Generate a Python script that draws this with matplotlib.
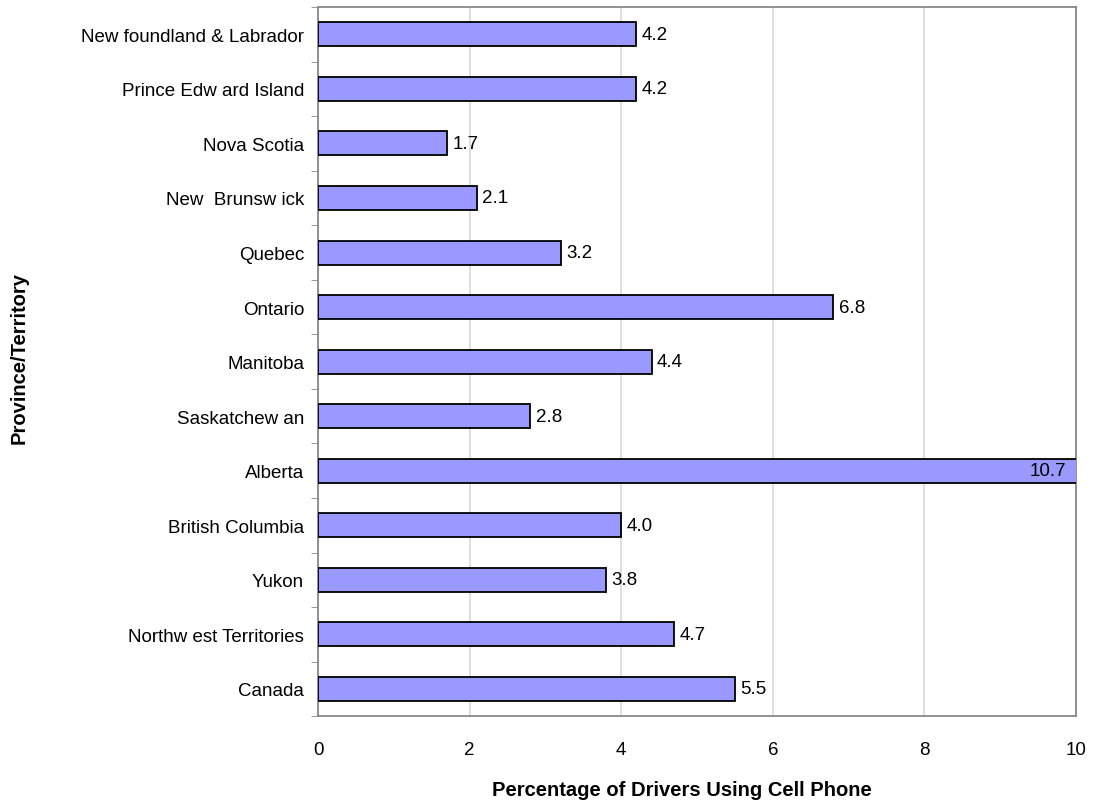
import matplotlib
matplotlib.use("Agg")
import matplotlib.pyplot as plt

# donnees (du haut vers le bas)
provinces = ["New foundland & Labrador", "Prince Edw ard Island", "Nova Scotia",
             "New  Brunsw ick", "Quebec", "Ontario", "Manitoba", "Saskatchew an",
             "Alberta", "British Columbia", "Yukon", "Northw est Territories", "Canada"]
pourcentages = [4.2, 4.2, 1.7, 2.1, 3.2, 6.8, 4.4, 2.8, 10.7, 4.0, 3.8, 4.7, 5.5]
xticks = [0, 2, 4, 6, 8, 10]

plt.rcParams['font.family'] = ['Liberation Sans', 'DejaVu Sans']

fig = plt.figure(figsize=(10.94, 8.04), dpi=100)
ax = fig.add_axes([0.2907, 0.108, 0.6928, 0.882])

n = len(provinces)
pos = list(range(n))[::-1]  # premier en haut
ax.barh(pos, pourcentages, height=0.44, color="#9999FF", edgecolor="black", linewidth=1.3, zorder=3)

for y, v in zip(pos, pourcentages):
    if v > xticks[-1]:
        ax.text(xticks[-1] - 0.13, y, f"{v:.1f}", va="center", ha="right", fontsize=13.5, zorder=4)
    else:
        ax.text(v + 0.07, y, f"{v:.1f}", va="center", ha="left", fontsize=13.5, zorder=4)

ax.set_xlim(0, 10)
ax.set_ylim(-0.5, n - 0.5)
ax.set_xticks(xticks)
ax.set_xticklabels([str(t) for t in xticks], fontsize=13.5)
ax.set_yticks(pos)
ax.set_yticklabels(provinces, fontsize=13.5)
ax.set_yticks([i - 0.5 for i in range(n + 1)], minor=True)
ax.tick_params(axis="y", which="major", length=0, pad=10)
ax.tick_params(axis="y", which="minor", length=5, color="#888888")
ax.tick_params(axis="x", length=0, pad=18)

ax.grid(axis="x", color="#d9d9d9", linewidth=1.2, zorder=0)
for s in ax.spines.values():
    s.set_color("#888888")
    s.set_linewidth(1.3)

fig.text(0.623, 0.005, "Percentage of Drivers Using Cell Phone", ha="center", va="bottom",
         fontsize=14.5, fontweight="bold")
fig.text(0.009, 0.555, "Province/Territory", rotation=90, va="center", ha="left",
         fontsize=14.5, fontweight="bold")

fig.savefig("out.png", dpi=100)
